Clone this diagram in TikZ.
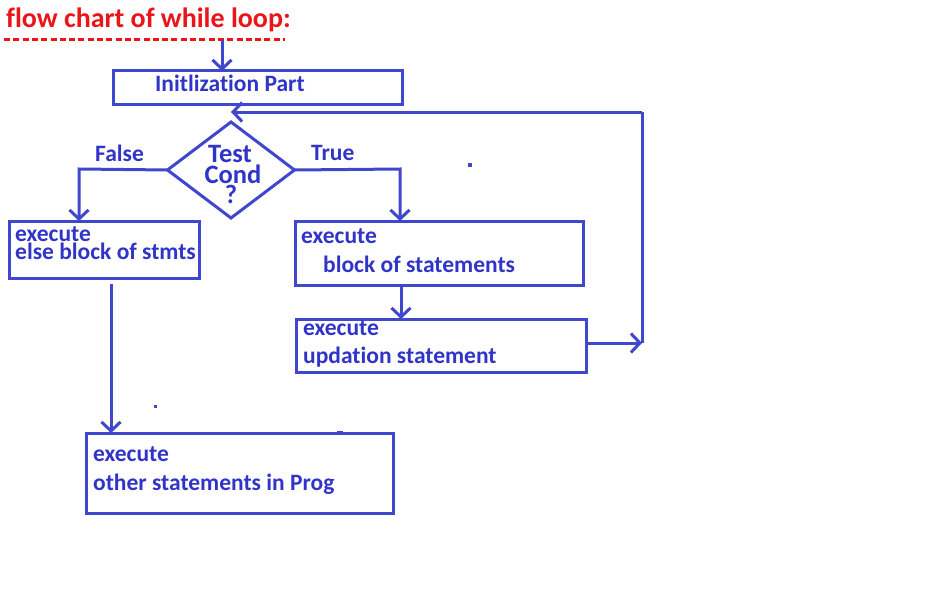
\documentclass[tikz,border=0pt]{standalone}
\usepackage{fontspec}
\setmainfont{Carlito}[Ligatures={NoCommon}]
\usetikzlibrary{shapes.geometric,arrows.meta}
\definecolor{lineblue}{RGB}{63,72,204}
\definecolor{textblue}{RGB}{48,52,200}
\definecolor{titlered}{RGB}{235,20,25}
\tikzset{
  box/.style={draw=lineblue, line width=3pt, rectangle, inner sep=0pt, outer sep=0pt},
  arr/.style={draw=lineblue, line width=3pt, -{Straight Barb[length=9pt,width=19pt,line width=3pt]}},
  plain/.style={draw=lineblue, line width=3pt},
  txt/.style={text=textblue, font=\fontsize{23.5}{23.5}\selectfont\bfseries, anchor=base west, inner sep=0pt},
  ctxt/.style={text=textblue, font=\fontsize{26.5}{26.5}\selectfont\bfseries, anchor=base, inner sep=0pt},
  speck/.style={fill=lineblue, draw=none}
}
\begin{document}
\begin{tikzpicture}[x=1pt,y=-1pt]
\fill[white] (0,0) rectangle (942,610);
\useasboundingbox (0,0) rectangle (942,610);

% title
\node[text=titlered, font=\fontsize{28}{28}\selectfont\bfseries, anchor=base west, inner sep=0pt] (title) at (6,28) {flow chart of while loop:};
\coordinate (dl) at (4,40);
\coordinate (dr) at (285,40);
\draw[titlered, line width=3pt, dash pattern=on 6pt off 3.3pt] (dl) -- (dr);

% boxes
\node[box, minimum width=289pt, minimum height=33pt] (init) at (257.5,87.5) {};
\node[box, diamond, minimum width=127pt, minimum height=96pt] (dia) at (231,170) {};
\node[box, minimum width=190pt, minimum height=57pt] (els) at (104,249.5) {};
\node[box, minimum width=288pt, minimum height=64pt] (blk) at (439,253) {};
\node[box, minimum width=290pt, minimum height=53pt] (upd) at (441,345.5) {};
\node[box, minimum width=307pt, minimum height=80pt] (oth) at (239.5,473) {};

% texts
\node[txt] (tinit) at (155,92) {Initlization Part};
\node[ctxt] (td1) at (230,162) {Test};
\node[ctxt] (td2) at (233,183) {Cond};
\node[ctxt] (td3) at (231,203) {?};
\node[txt] (tfalse) at (95,161) {False};
\node[txt] (ttrue) at (311,160) {True};
\node[txt] (te1) at (15,241) {execute};
\node[txt] (te2) at (15,259) {else block of stmts};
\node[txt] (tb1) at (301,243) {execute};
\node[txt] (tb2) at (323,272) {block of statements};
\node[txt] (tu1) at (303,335) {execute};
\node[txt] (tu2) at (303,363) {updation statement};
\node[txt] (to1) at (93,461) {execute};
\node[txt] (to2) at (93,490) {other statements in Prog};

% connectors
\coordinate (a0) at (222,40);
\draw[arr] (a0) -- (a0 |- init.north);
\coordinate (fx) at (79,169);
\draw[arr] (dia.west) -- (fx) -- (fx |- els.north);
\coordinate (tx) at (400,169);
\draw[arr] (dia.east) -- (tx) -- (tx |- blk.north);
\coordinate (bx) at (401,0);
\draw[arr] (bx |- blk.south) -- (bx |- upd.north);
\coordinate (lt) at (642,112);
\coordinate (lr) at (642,343);
\draw[arr] (upd.east |- lr) -- (lr);
\draw[plain] (lr) -- (lt);
\draw[arr] (lt) -- (dia.north |- lt);
\coordinate (ex) at (111,284);
\draw[arr] (ex) -- (ex |- oth.north);

% specks
\fill[speck] (468,163) rectangle (472,167);
\fill[speck] (153.5,404.5) rectangle (156.5,407.5);
\fill[speck] (337,431) rectangle (343,434);
\end{tikzpicture}
\end{document}
